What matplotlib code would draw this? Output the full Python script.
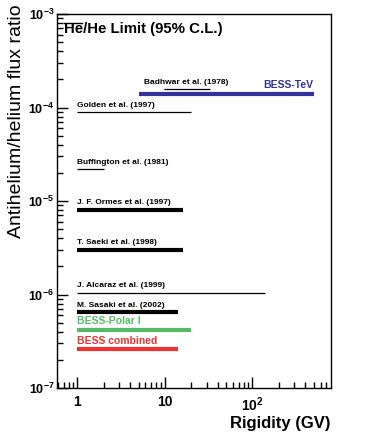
import matplotlib.pyplot as plt
from matplotlib.ticker import LogLocator, FixedLocator, FixedFormatter, NullFormatter

plt.rcParams["font.family"] = ["Liberation Sans", "DejaVu Sans"]
plt.rcParams["mathtext.fontset"] = "custom"
plt.rcParams["mathtext.rm"] = "Liberation Sans:bold"
plt.rcParams["mathtext.bf"] = "Liberation Sans:bold"

# experiment limits: label, rigidity range (GV), ratio limit
labels = ["Badhwar et al. (1978)", "BESS-TeV", "Golden et al. (1997)",
          "Buffington et al. (1981)", "J. F. Ormes et al. (1997)",
          "T. Saeki et al. (1998)", "J. Alcaraz et al. (1999)",
          "M. Sasaki et al. (2002)", "BESS-Polar I", "BESS combined"]
r_min = [9.8, 5.0, 1.0, 1.0, 1.0, 1.0, 1.0, 1.0, 1.0, 1.0]
r_max = [33.0, 500.0, 20.0, 2.0, 16.0, 16.0, 140.0, 14.0, 20.0, 14.0]
limits = [1.57e-4, 1.38e-4, 8.9e-5, 2.18e-5, 8.1e-6, 3.0e-6, 1.05e-6,
          6.5e-7, 4.2e-7, 2.6e-7]

widths = [0.9, 3.0, 0.9, 0.9, 3.0, 3.0, 0.9, 3.0, 3.0, 3.0]
colors = ["black", "#333399", "black", "black", "black", "black", "black",
          "black", "#55bb66", "#ee3333"]

fig = plt.figure(figsize=(3.68, 4.38), dpi=100)
ax = fig.add_axes([57 / 368, 1 - 388 / 438, 274 / 368, 374 / 438])
ax.set_xscale("log")
ax.set_yscale("log")
ax.set_xlim(0.585, 790)
ax.set_ylim(1e-7, 1e-3)

for i, lab in enumerate(labels):
    ax.plot([r_min[i], r_max[i]], [limits[i], limits[i]], color=colors[i],
            lw=widths[i], solid_capstyle="butt")
    if lab == "BESS-TeV":
        ax.annotate(lab, (r_max[i], limits[i]), xytext=(0, 3), textcoords="offset points",
                    ha="right", va="bottom", fontsize=7.5, fontweight="bold", color=colors[i])
    elif lab.startswith("BESS"):
        ax.annotate(lab, (r_min[i], limits[i]), xytext=(0, 2.5), textcoords="offset points",
                    ha="left", va="bottom", fontsize=7.5, fontweight="bold", color=colors[i])
    elif lab.startswith("Badhwar"):
        ax.annotate(lab, (5.8, limits[i]), xytext=(0, 2.5), textcoords="offset points",
                    ha="left", va="bottom", fontsize=6, fontweight="bold")
    else:
        ax.annotate(lab, (r_min[i], limits[i]), xytext=(0, 2.5), textcoords="offset points",
                    ha="left", va="bottom", fontsize=6, fontweight="bold")

# title with an overline on the first "He" (antihelium)
title = ax.text(0.025, 0.978, "He/He Limit (95% C.L.)", transform=ax.transAxes,
                ha="left", va="top", fontsize=10.8, fontweight="bold")
probe = ax.text(0.025, 0.978, "He", transform=ax.transAxes,
                ha="left", va="top", fontsize=10.8, fontweight="bold", alpha=0)
fig.canvas.draw()
bb = probe.get_window_extent().transformed(ax.transAxes.inverted())
ax.plot([bb.x0 + 0.002, bb.x1 - 0.002], [bb.y1 - 0.001, bb.y1 - 0.001], color="black",
        lw=1.0, transform=ax.transAxes, clip_on=False)
probe.remove()

ax.xaxis.set_major_locator(FixedLocator([1, 10, 100]))
ax.xaxis.set_major_formatter(FixedFormatter(["1", "10", r"$10^{2}$"]))
ax.xaxis.set_minor_locator(LogLocator(base=10, subs=range(2, 10), numticks=20))
ax.xaxis.set_minor_formatter(NullFormatter())
ax.yaxis.set_minor_locator(LogLocator(base=10, subs=range(2, 10), numticks=20))
ax.yaxis.set_minor_formatter(NullFormatter())

ax.tick_params(which="both", direction="in", top=False, right=False, labelsize=9)
ax.tick_params(which="major", length=8, width=1)
ax.tick_params(axis="x", which="major", pad=5, labelsize=10)
ax.tick_params(axis="y", which="major", pad=2)
ax.tick_params(which="minor", length=4, width=1)
for lbl in ax.get_xticklabels() + ax.get_yticklabels():
    lbl.set_fontweight("bold")
for s in ax.spines.values():
    s.set_linewidth(1.0)

ax.set_ylabel("Antihelium/helium flux ratio", fontsize=14)
ax.yaxis.set_label_coords(-0.115, (388 - 121) / 374)
ax.set_xlabel("Rigidity (GV)", fontsize=12, fontweight="bold", loc="right", labelpad=2)

fig.savefig("out.png", dpi=100)
